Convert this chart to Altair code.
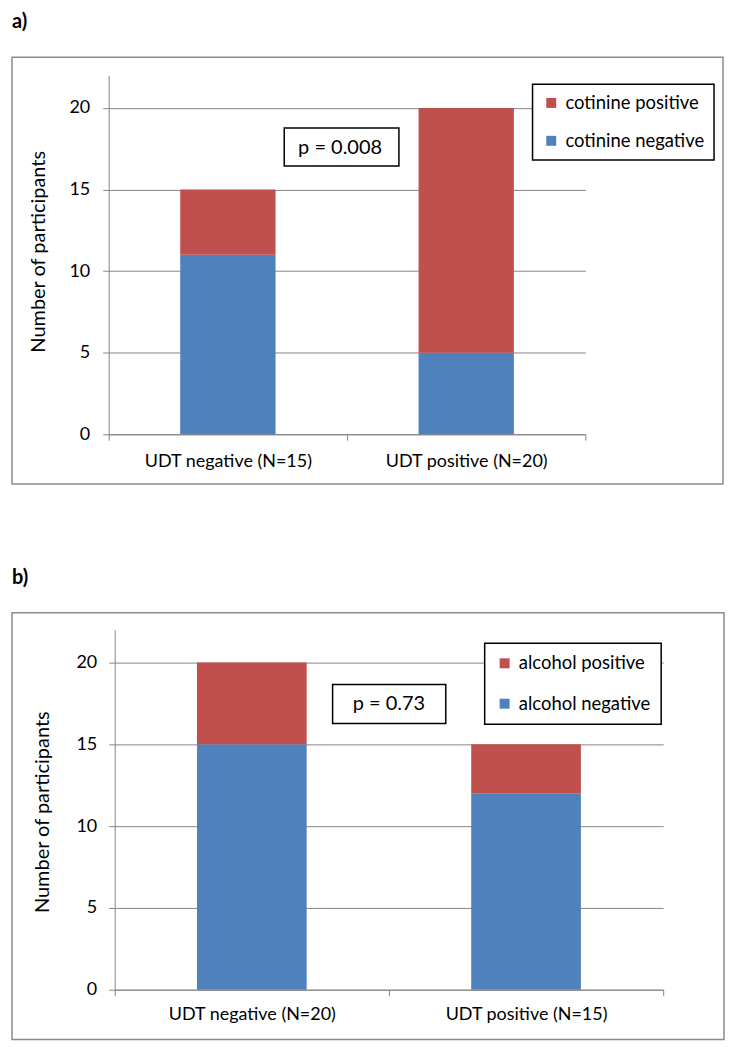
import altair as alt
import pandas as pd

# ---------------- data ----------------
cats_a = ["UDT negative (N=15)", "UDT positive (N=20)"]
neg_a = [11, 5]
pos_a = [4, 15]
series_a = ["cotinine positive", "cotinine negative"]
p_a = "p = 0.008"

cats_b = ["UDT negative (N=20)", "UDT positive (N=15)"]
neg_b = [15, 12]
pos_b = [5, 3]
series_b = ["alcohol positive", "alcohol negative"]
p_b = "p = 0.73"

y_ticks = [0, 5, 10, 15, 20]
y_max = 22
y_title = "Number of participants"

# ---------------- style ----------------
RED = "#C0504D"
BLUE = "#4F81BD"
GRID = "#868686"
FRAME = "#8C8C8C"
FONT = "Lato"


def long_table(cats, neg, pos, series):
    rows = []
    for c, n, p in zip(cats, neg, pos):
        rows.append({"cat": c, "series": series[1], "value": n, "ord": 0})
        rows.append({"cat": c, "series": series[0], "value": p, "ord": 1})
    return pd.DataFrame(rows)


def panel(label, cats, neg, pos, series, ptxt, w, h, g):
    df = long_table(cats, neg, pos, series)
    one = pd.DataFrame({"k": [0]})

    frame = alt.Chart(one).mark_rect(
        fill="transparent", stroke=FRAME, strokeWidth=1.5
    ).encode(
        x=alt.value(g["fx"][0]), x2=alt.value(g["fx"][1]),
        y=alt.value(g["fy"][0]), y2=alt.value(g["fy"][1]),
    )

    bars = alt.Chart(df).mark_bar(width=alt.RelativeBandSize(0.4)).encode(
        x=alt.X(
            "cat:N", sort=cats,
            scale=alt.Scale(paddingInner=0, paddingOuter=0,
                            range=[g["x0"], w]),
            axis=alt.Axis(
                title=None, labelAngle=0, tickBand="extent", grid=False,
                domainColor=GRID, tickColor=GRID, tickSize=6,
                labelPadding=g["xlp"], labelFont=FONT, labelFontSize=18,
                labelColor="black",
            ),
        ),
        y=alt.Y(
            "value:Q", stack="zero",
            scale=alt.Scale(domain=[0, y_max], nice=False),
            axis=alt.Axis(
                values=y_ticks, title=y_title, grid=True, gridColor=GRID,
                domainColor=GRID, tickColor=GRID, tickSize=6,
                offset=-g["x0"],
                labelPadding=g["ylp"], labelFont=FONT, labelFontSize=18,
                labelColor="black",
                titleFont=FONT, titleFontSize=20, titleFontWeight="normal",
                titleColor="black", titleAngle=270, titleAlign="center",
                titleBaseline="middle", titleX=g["tx"], titleY=g["ty"],
            ),
        ),
        color=alt.Color(
            "series:N",
            scale=alt.Scale(domain=series, range=[RED, BLUE]),
            legend=alt.Legend(
                title=None, orient="none", legendX=g["lx"], legendY=g["ly"],
                strokeColor="black", fillColor="white",
                padding=g["lpad"], rowPadding=g["lrow"],
                symbolType="square", symbolSize=100, symbolStrokeWidth=0,
                labelFont=FONT, labelFontSize=18.5, labelColor="black",
                labelOffset=5,
            ),
        ),
        order=alt.Order("ord:Q", sort="ascending"),
    )

    pbox = alt.Chart(one).mark_rect(
        fill="white", stroke="black", strokeWidth=1.5
    ).encode(
        x=alt.value(g["px"][0]), x2=alt.value(g["px"][1]),
        y=alt.value(g["py"][0]), y2=alt.value(g["py"][1]),
    )
    ptext = alt.Chart(one).mark_text(
        text=ptxt, font=FONT, fontSize=20, align="center", baseline="middle",
        color="black",
    ).encode(x=alt.value(g["pt"][0]), y=alt.value(g["pt"][1]))

    lab = alt.Chart(one).mark_text(
        text=label, font=FONT, fontSize=20, fontWeight="bold", align="left",
        baseline="alphabetic", color="black",
    ).encode(x=alt.value(g["lab"][0]), y=alt.value(g["lab"][1]))

    return alt.layer(frame, bars, pbox, ptext, lab).properties(width=w, height=h)


# pixel geometry of decorations, relative to each plot's origin
geo_a = dict(x0=0, fx=(-97, 616), fy=(-18, 410), lab=(-97, -47), px=(176, 291),
             py=(53, 91), pt=(232, 73), lx=425, ly=9, lpad=9.5, lrow=19,
             tx=-70, ty=176.5, xlp=12, ylp=13)
geo_b = dict(x0=6, fx=(-97, 617), fy=(-17, 411), lab=(-97, -46), px=(224.5, 338),
             py=(55, 94), pt=(281, 75), lx=377, ly=13.7, lpad=10.75, lrow=21.5,
             tx=-72, ty=182.5, xlp=10, ylp=12)

pa = panel("a)", cats_a, neg_a, pos_a, series_a, p_a, 478, 360, geo_a)
pb = panel("b)", cats_b, neg_b, pos_b, series_b, p_b, 556, 361, geo_b)

chart = alt.concat(pa, pb, columns=1, spacing=81).resolve_scale(
    color="independent", x="independent", y="independent"
).properties(
    padding={"left": 2, "top": 2, "right": 0, "bottom": 0},
    background="white",
).configure_view(stroke="transparent").configure_legend(strokeWidth=1.5)

chart.save("out.html", embed_options={"renderer": "svg", "actions": False})
